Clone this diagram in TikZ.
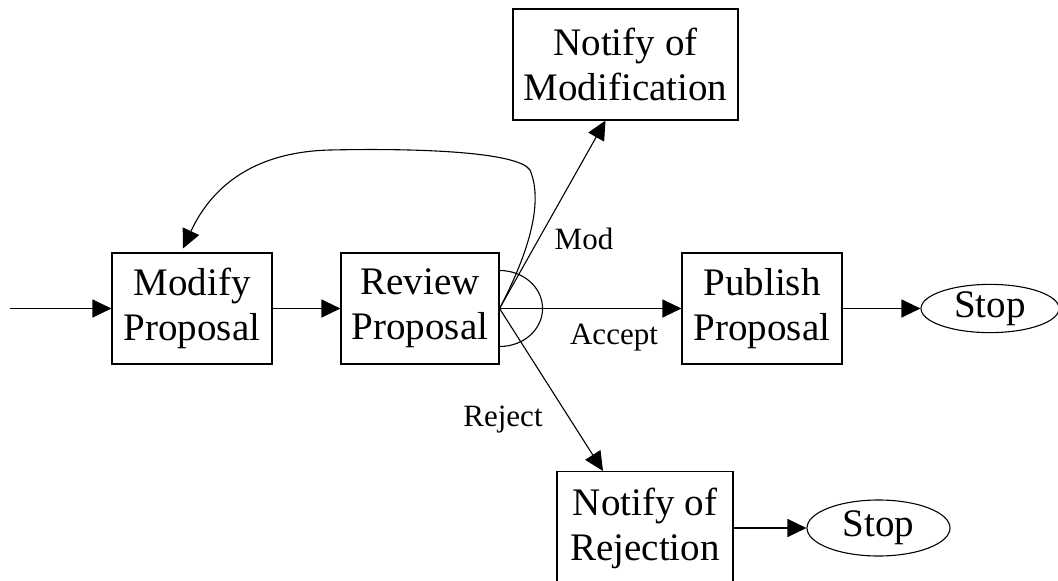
\documentclass[tikz,border=0pt]{standalone}
\usepackage{fontspec}
\setmainfont{Liberation Serif}
\usetikzlibrary{arrows.meta,calc,shapes.geometric}
\begin{document}
\begin{tikzpicture}[x=1pt,y=-1pt,
  every path/.style={line width=1.1pt},
  box/.style={draw, line width=1.1pt, rectangle, align=center, inner sep=0pt,
    font=\fontsize{39}{45}\selectfont},
  stopnode/.style={draw, line width=1.1pt, ellipse, inner sep=0pt,
    font=\fontsize{39}{45}\selectfont},
  lbl/.style={anchor=base, inner sep=0pt, font=\fontsize{31}{37}\selectfont},
  arr/.style={-{Triangle[length=19pt,width=18pt]}}
]
\useasboundingbox (0,0) rectangle (1058,581);
\node[box, minimum width=160pt, minimum height=111pt] (mod) at (192,308.5) {Modify\\Proposal};
\node[box, minimum width=158pt, minimum height=111pt] (rev) at (420,308.5) {Review\\Proposal};
\node[box, minimum width=160pt, minimum height=111pt] (pub) at (762,308.5) {Publish\\Proposal};
\node[box, minimum width=225pt, minimum height=111pt] (nmod) at (625.5,64.5) {Notify of\\Modification};
\node[box, minimum width=176pt, minimum height=113pt] (nrej) at (645,528) {Notify of\\Rejection};
\node[stopnode, minimum width=138pt, minimum height=48pt] (stop1) at (990,308.5) {Stop};
\node[stopnode, minimum width=143pt, minimum height=56pt] (stop2) at (878.5,528) {Stop};
\coordinate (start) at (10,308.5);

\draw[arr] (start) -- (mod.west);
\draw[arr] (mod.east) -- (rev.west);
\draw[arr] (rev.east) -- (pub.west);
\draw[arr] (pub.east) -- (stop1.west);
\draw[arr] (rev.east) -- ($(nmod.south)+(-20,0)$);
\draw[arr] (rev.east) -- ($(nrej.north)+(-42,0)$);
\draw[arr] (nrej.east) -- (stop2.west);
\draw[arr] (rev.east) .. controls (525,260) and (545,205) .. (530,170)
  .. controls (518,152) and (420,148) .. (330,150)
  .. controls (250,152) and (210,190) .. ($(mod.north)+(-9,-4)$);
\draw ($(rev.east)+(0,-38)$) .. controls ($(rev.east)+(24,-38)$) and ($(rev.east)+(43,-21)$) .. ($(rev.east)+(43,0)$)
  .. controls ($(rev.east)+(43,21)$) and ($(rev.east)+(24,38)$) .. ($(rev.east)+(0,38)$);

\node[lbl] (lmod) at (584,249) {Mod};
\node[lbl] (lacc) at (614,344) {Accept};
\node[lbl] (lrej) at (503,426) {Reject};
\end{tikzpicture}
\end{document}
